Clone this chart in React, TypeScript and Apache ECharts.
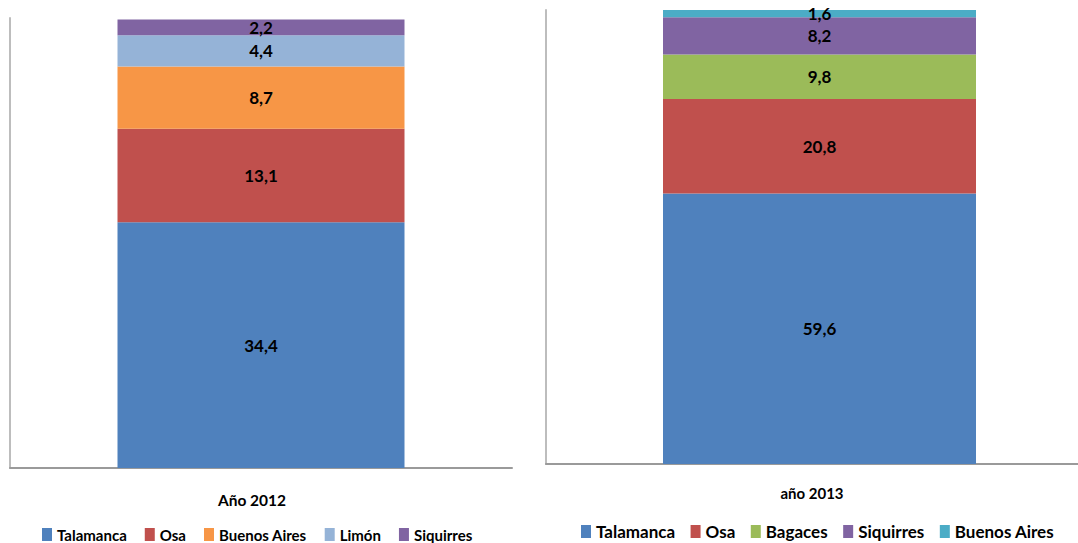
import React, { useEffect, useRef } from "react";
import * as echarts from "echarts";

const names2012 = ["Talamanca", "Osa", "Buenos Aires", "Limón", "Siquirres"];
const values2012 = [34.4, 13.1, 8.7, 4.4, 2.2];
const colors2012 = ["#4f81bd", "#c0504d", "#f79646", "#95b3d7", "#8064a2"];
const category2012 = ["Año 2012"];

const names2013 = ["Talamanca", "Osa", "Bagaces", "Siquirres", "Buenos Aires"];
const values2013 = [59.6, 20.8, 9.8, 8.2, 1.6];
const colors2013 = ["#4f81bd", "#c0504d", "#9bbb59", "#8064a2", "#4bacc6"];
const category2013 = ["año 2013"];

const FONT = "Lato, 'Open Sans', sans-serif";

function buildOption(
  names: string[],
  values: number[],
  colors: string[],
  category: string[],
  cfg: any
) {
  return {
    animation: false,
    color: colors,
    grid: cfg.grid,
    xAxis: {
      type: "category",
      data: category,
      axisLine: { show: true, lineStyle: { color: "#9a9a9a", width: 2 } },
      axisTick: { show: false },
      axisLabel: { show: false },
    },
    yAxis: {
      type: "value",
      min: 0,
      max: cfg.max,
      axisLine: { show: true, lineStyle: { color: "#bdbdbd", width: 2 } },
      axisTick: { show: false },
      axisLabel: { show: false },
      splitLine: { show: false },
    },
    legend: {
      data: names,
      left: cfg.legendLeft,
      top: cfg.legendTop,
      icon: "rect",
      itemWidth: 10,
      itemHeight: 13,
      itemGap: cfg.legendGap,
      textStyle: {
        fontFamily: FONT,
        fontWeight: "bold",
        fontSize: cfg.legendFont,
        color: "#000",
      },
      selectedMode: false,
    },
    graphic: [
      {
        type: "text",
        x: cfg.titleX,
        y: cfg.titleY,
        style: {
          text: category[0],
          fontFamily: FONT,
          fontWeight: "bold",
          fontSize: cfg.titleFont,
          fill: "#000",
          textAlign: "center",
          textVerticalAlign: "middle",
        },
      },
    ],
    series: names.map((n, i) => ({
      name: n,
      type: "bar",
      stack: "total",
      barWidth: cfg.barWidth,
      data: [values[i]],
      itemStyle: { color: colors[i] },
      label: {
        show: true,
        position: "inside",
        formatter: (p: any) => String(p.value).replace(".", ","),
        fontFamily: FONT,
        fontWeight: "bold",
        fontSize: 17,
        color: "#000",
      },
    })),
  };
}

function Chart({ style, option }: { style: React.CSSProperties; option: any }) {
  const ref = useRef<HTMLDivElement>(null);
  useEffect(() => {
    if (!ref.current) return;
    const chart = echarts.init(ref.current, null, { renderer: "svg" });
    chart.setOption(option);
    return () => chart.dispose();
  }, []);
  return <div ref={ref} style={style} />;
}

export default function App() {
  const opt2012 = buildOption(names2012, values2012, colors2012, category2012, {
    grid: { left: 10, right: 28, top: 18, bottom: 75 },
    max: 63,
    barWidth: 287,
    legendLeft: 37,
    legendTop: 522,
    legendGap: 18,
    legendFont: 15,
    titleX: 252,
    titleY: 500,
    titleFont: 15.5,
  });
  const opt2013 = buildOption(names2013, values2013, colors2013, category2013, {
    grid: { left: 6, right: 0, top: 10, bottom: 79 },
    max: 100,
    barWidth: 313,
    legendLeft: 36,
    legendTop: 518,
    legendGap: 15.5,
    legendFont: 17,
    titleX: 272,
    titleY: 493,
    titleFont: 15,
  });
  return (
    <div
      style={{
        position: "fixed",
        left: 0,
        top: 0,
        width: 1078,
        height: 543,
        background: "#fff",
        overflow: "hidden",
      }}
    >
      <Chart
        option={opt2012}
        style={{ position: "absolute", left: 0, top: 0, width: 540, height: 543 }}
      />
      <Chart
        option={opt2013}
        style={{ position: "absolute", left: 540, top: 0, width: 553, height: 543 }}
      />
    </div>
  );
}
